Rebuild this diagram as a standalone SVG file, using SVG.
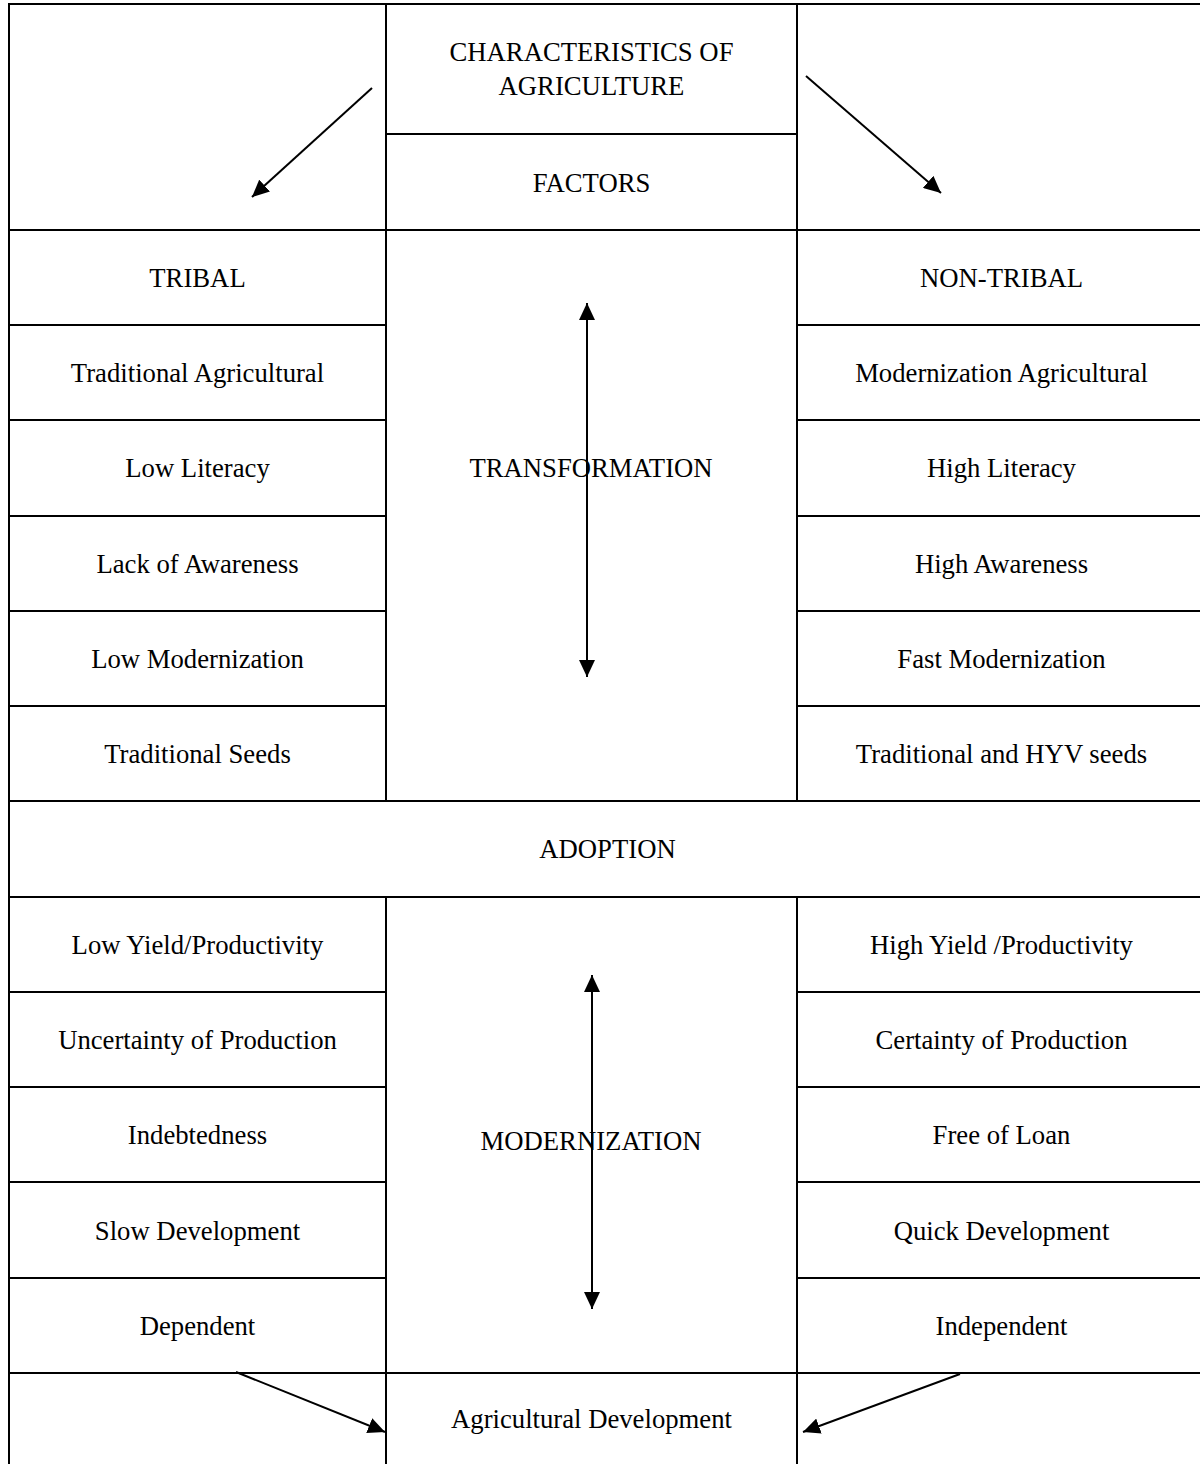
<svg xmlns="http://www.w3.org/2000/svg" width="1200" height="1464" viewBox="0 0 1200 1464">
<style>
.c{fill:none;stroke:#000;stroke-width:2}
.t{font-family:"Liberation Serif","Times New Roman",serif;font-size:26.7px;fill:#000;text-anchor:middle}
.a{stroke:#000;stroke-width:2;fill:none}
</style>
<defs>
<marker id="ah" markerUnits="userSpaceOnUse" markerWidth="18" markerHeight="16" refX="17" refY="8" orient="auto-start-reverse">
<path d="M0,0 L17,8 L0,16 Z" fill="#000"/>
</marker>
</defs>
<rect x="0" y="0" width="1200" height="1464" fill="#fff"/>
<g id="blank-top-left"><rect class="c" x="9" y="4" width="377" height="226"/></g>
<g id="title"><rect class="c" x="386" y="4" width="411" height="130"/><text class="t" x="591.5" y="61">CHARACTERISTICS OF</text><text class="t" x="591.5" y="95">AGRICULTURE</text></g>
<g id="factors"><rect class="c" x="386" y="134" width="411" height="96"/><text class="t" x="591.5" y="192">FACTORS</text></g>
<g id="blank-top-right"><rect class="c" x="797" y="4" width="409" height="226"/></g>

<g id="tribal"><rect class="c" x="9" y="230" width="377" height="95"/><text class="t" x="197.5" y="287">TRIBAL</text></g>
<g id="traditional-agricultural"><rect class="c" x="9" y="325" width="377" height="95"/><text class="t" x="197.5" y="382">Traditional Agricultural</text></g>
<g id="low-literacy"><rect class="c" x="9" y="420" width="377" height="96"/><text class="t" x="197.5" y="477">Low Literacy</text></g>
<g id="lack-awareness"><rect class="c" x="9" y="516" width="377" height="95"/><text class="t" x="197.5" y="573">Lack of Awareness</text></g>
<g id="low-modernization"><rect class="c" x="9" y="611" width="377" height="95"/><text class="t" x="197.5" y="668">Low Modernization</text></g>
<g id="traditional-seeds"><rect class="c" x="9" y="706" width="377" height="95"/><text class="t" x="197.5" y="763">Traditional Seeds</text></g>

<g id="transformation"><rect class="c" x="386" y="230" width="411" height="571"/><text class="t" x="591" y="477">TRANSFORMATION</text></g>

<g id="non-tribal"><rect class="c" x="797" y="230" width="409" height="95"/><text class="t" x="1001.5" y="287">NON-TRIBAL</text></g>
<g id="modernization-agricultural"><rect class="c" x="797" y="325" width="409" height="95"/><text class="t" x="1001.5" y="382">Modernization Agricultural</text></g>
<g id="high-literacy"><rect class="c" x="797" y="420" width="409" height="96"/><text class="t" x="1001.5" y="477">High Literacy</text></g>
<g id="high-awareness"><rect class="c" x="797" y="516" width="409" height="95"/><text class="t" x="1001.5" y="573">High Awareness</text></g>
<g id="fast-modernization"><rect class="c" x="797" y="611" width="409" height="95"/><text class="t" x="1001.5" y="668">Fast Modernization</text></g>
<g id="traditional-hyv-seeds"><rect class="c" x="797" y="706" width="409" height="95"/><text class="t" x="1001.5" y="763">Traditional and HYV seeds</text></g>

<g id="adoption"><rect class="c" x="9" y="801" width="1197" height="96"/><text class="t" x="607.5" y="858">ADOPTION</text></g>

<g id="low-yield"><rect class="c" x="9" y="897" width="377" height="95"/><text class="t" x="197.5" y="954">Low Yield/Productivity</text></g>
<g id="uncertainty"><rect class="c" x="9" y="992" width="377" height="95"/><text class="t" x="197.5" y="1049">Uncertainty of Production</text></g>
<g id="indebtedness"><rect class="c" x="9" y="1087" width="377" height="95"/><text class="t" x="197.5" y="1144">Indebtedness</text></g>
<g id="slow-development"><rect class="c" x="9" y="1182" width="377" height="96"/><text class="t" x="197.5" y="1240">Slow Development</text></g>
<g id="dependent"><rect class="c" x="9" y="1278" width="377" height="95"/><text class="t" x="197.5" y="1335">Dependent</text></g>

<g id="modernization"><rect class="c" x="386" y="897" width="411" height="476"/><text class="t" x="591" y="1150">MODERNIZATION</text></g>

<g id="high-yield"><rect class="c" x="797" y="897" width="409" height="95"/><text class="t" x="1001.5" y="954">High Yield /Productivity</text></g>
<g id="certainty"><rect class="c" x="797" y="992" width="409" height="95"/><text class="t" x="1001.5" y="1049">Certainty of Production</text></g>
<g id="free-of-loan"><rect class="c" x="797" y="1087" width="409" height="95"/><text class="t" x="1001.5" y="1144">Free of Loan</text></g>
<g id="quick-development"><rect class="c" x="797" y="1182" width="409" height="96"/><text class="t" x="1001.5" y="1240">Quick Development</text></g>
<g id="independent"><rect class="c" x="797" y="1278" width="409" height="95"/><text class="t" x="1001.5" y="1335">Independent</text></g>

<g id="blank-bottom-left"><rect class="c" x="9" y="1373" width="377" height="95"/></g>
<g id="agricultural-development"><rect class="c" x="386" y="1373" width="411" height="95"/><text class="t" x="591.5" y="1428">Agricultural Development</text></g>
<g id="blank-bottom-right"><rect class="c" x="797" y="1373" width="409" height="95"/></g>

<g id="connectors">
<line class="a" x1="372" y1="88" x2="252" y2="197" marker-end="url(#ah)"/>
<line class="a" x1="806" y1="76" x2="941" y2="193" marker-end="url(#ah)"/>
<line class="a" x1="587" y1="303" x2="587" y2="677" marker-start="url(#ah)" marker-end="url(#ah)"/>
<line class="a" x1="592" y1="975" x2="592" y2="1309" marker-start="url(#ah)" marker-end="url(#ah)"/>
<line class="a" x1="236" y1="1372" x2="385" y2="1432" marker-end="url(#ah)"/>
<line class="a" x1="960" y1="1374" x2="803" y2="1432" marker-end="url(#ah)"/>
</g>
</svg>
